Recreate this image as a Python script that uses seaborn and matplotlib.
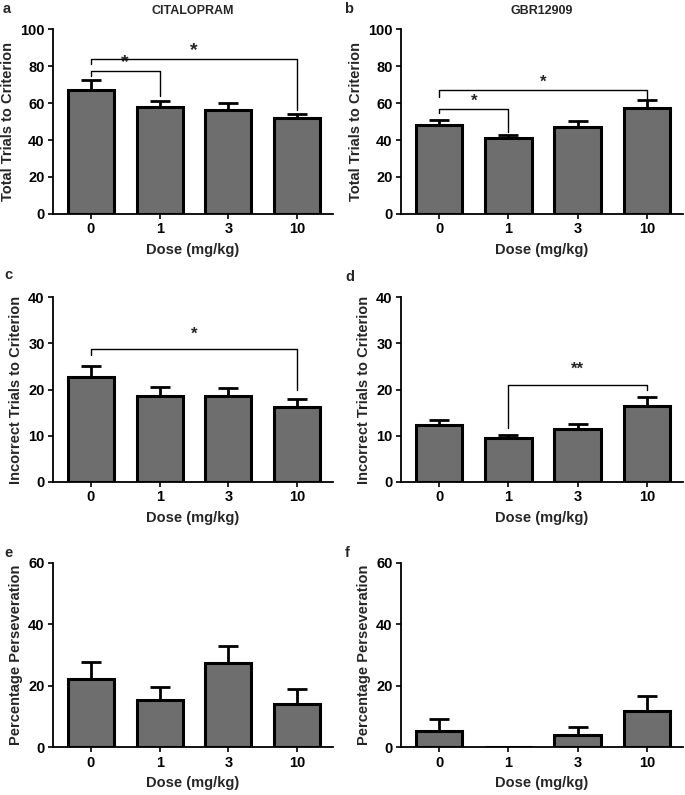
import matplotlib
matplotlib.use("Agg")
import numpy as np
import pandas as pd
import seaborn as sns
import matplotlib.pyplot as plt

sns.set_theme(style="ticks")
plt.rcParams['font.family'] = ['Liberation Sans', 'DejaVu Sans']
plt.rcParams['font.weight'] = 'bold'
plt.rcParams['axes.labelweight'] = 'bold'

doses = ["0", "1", "3", "10"]

a_mean = [67.3, 57.7, 56.1, 51.9]
a_sem = [5.0, 3.6, 3.9, 2.4]
b_mean = [48.4, 40.9, 46.9, 57.6]
b_sem = [2.6, 1.7, 3.4, 4.3]
c_mean = [22.8, 18.7, 18.6, 16.3]
c_sem = [2.3, 1.9, 1.7, 1.7]
d_mean = [12.3, 9.4, 11.4, 16.4]
d_sem = [1.0, 0.7, 1.2, 2.0]
e_mean = [22.3, 15.2, 27.5, 13.9]
e_sem = [5.4, 4.4, 5.5, 5.0]
f_mean = [5.4, 0.0, 4.0, 11.8]
f_sem = [3.7, 0.0, 2.7, 4.7]

titles = {"a": "CITALOPRAM", "b": "GBR12909"}
ylabels = {"a": "Total Trials to Criterion", "b": "Total Trials to Criterion",
           "c": "Incorrect Trials to Criterion", "d": "Incorrect Trials to Criterion",
           "e": "Percentage Perseveration", "f": "Percentage Perseveration"}
yticks = {"a": [0, 20, 40, 60, 80, 100], "b": [0, 20, 40, 60, 80, 100],
          "c": [0, 10, 20, 30, 40], "d": [0, 10, 20, 30, 40],
          "e": [0, 20, 40, 60], "f": [0, 20, 40, 60]}

# significance brackets: (from, to, bracket height, left end, right end, label, label gap px, size)
brackets = {
    "a": [(0, 1, 77.4, 74.7, 63.9, "*", 0, 14), (0, 3, 83.8, 81.0, 56.3, "*", 0, 14)],
    "b": [(0, 1, 57.0, 54.4, 44.3, "*", 0, 12), (0, 3, 67.0, 63.4, 62.0, "*", 0, 12)],
    "c": [(0, 3, 28.8, 27.4, 19.8, "*", 7, 12)],
    "d": [(1, 3, 21.0, 11.6, 19.9, "**", 8, 12)],
}

data = {"a": (a_mean, a_sem), "b": (b_mean, b_sem), "c": (c_mean, c_sem),
        "d": (d_mean, d_sem), "e": (e_mean, e_sem), "f": (f_mean, f_sem)}

W, H = 685, 795
fig = plt.figure(figsize=(W / 100, H / 100), dpi=100)

col_left = [53, 401]
col_w = [280, 282]
row_top = [29.3, 297.3, 562.7]
row_h = 184.5
letters_pos = {"a": (3, 9), "b": (344, 9), "c": (4, 275), "d": (345, 277),
               "e": (4, 553), "f": (345, 553)}

keys = ["a", "b", "c", "d", "e", "f"]
for idx, k in enumerate(keys):
    r, c = divmod(idx, 2)
    ax = fig.add_axes([col_left[c] / W, 1 - (row_top[r] + row_h) / H, col_w[c] / W, row_h / H])
    mean, sem = data[k]
    df = pd.DataFrame({"dose": doses, "value": mean})
    sns.barplot(data=df, x="dose", y="value", order=doses, color="#6e6e6e",
                saturation=1, edgecolor="black", linewidth=2.2, width=0.67, ax=ax,
                errorbar=None, zorder=2)
    xs = np.arange(len(doses))
    m = np.array(mean)
    s = np.array(sem)
    mask = m > 0
    ax.errorbar(xs[mask], m[mask], yerr=[np.zeros(mask.sum()), s[mask]], fmt="none",
                ecolor="black", elinewidth=2.0, capsize=7, capthick=2.0, zorder=1)
    ax.set_xlim(-0.55, 3.52)
    ax.set_ylim(0, yticks[k][-1])
    ax.set_yticks(yticks[k])
    ax.set_xticks(xs)
    ax.set_xticklabels(doses)
    for sp in ["top", "right"]:
        ax.spines[sp].set_visible(False)
    for sp in ["left", "bottom"]:
        ax.spines[sp].set_linewidth(1.3)
        ax.spines[sp].set_color("black")
    ax.tick_params(axis="both", direction="out", length=3.5, width=1.2, colors="black",
                   labelsize=10.5, pad=2.5)
    for lab in ax.get_xticklabels() + ax.get_yticklabels():
        lab.set_fontweight("bold")
    ax.set_xlabel("Dose (mg/kg)", fontsize=10.5, fontweight="bold", labelpad=5)
    ax.set_ylabel(ylabels[k], fontsize=10.5, fontweight="bold", labelpad=4)
    if k in titles:
        ax.set_title(titles[k], fontsize=9, fontweight="bold", pad=11)
    for (i, j, yt, yl, yr, lab, gap, fs) in brackets.get(k, []):
        ax.plot([i, i, j, j], [yl, yt, yt, yr], color="black", lw=1.0, zorder=3,
                clip_on=False)
        ax.annotate(lab, xy=((i + j) / 2, yt), xytext=(0, gap * 0.72),
                    textcoords="offset points", ha="center", va="bottom",
                    fontsize=fs, fontweight="bold")
    lx, ly = letters_pos[k]
    fig.text(lx / W, 1 - ly / H, k, fontsize=10.5, fontweight="bold", va="center", ha="left")

fig.savefig("out.png", dpi=100)
